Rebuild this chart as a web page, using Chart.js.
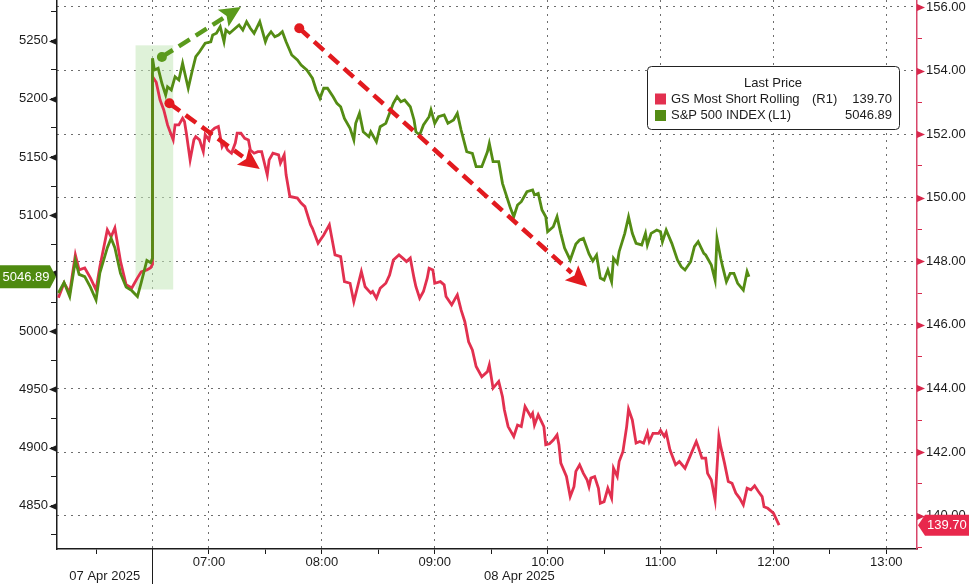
<!DOCTYPE html>
<html>
<head>
<meta charset="utf-8">
<script src="https://cdn.jsdelivr.net/npm/chart.js@4.4.1/dist/chart.umd.min.js"></script>
<style>
  html, body { margin: 0; padding: 0; background: #fff; }
  #wrap { position: relative; width: 969px; height: 584px; }
</style>
</head>
<body>
<div id="wrap"><canvas id="chart"></canvas></div>
<script>
const FONT = "'Liberation Sans', Arial, sans-serif";
const FS = 13;
const GREEN = "#548c14";
const RED = "#e2304f";
const ARROW_RED = "#e21a1f";
const ARROW_GREEN = "#5a9a1c";
const GRID = "#6e6e6e";
const INK = "#1c1c1c";

// x axis is minutes from the 08 Apr open (06:30); the 07 Apr close tail sits before zero
const toMin = t => { const [h, m] = t.split(":").map(Number); return h * 60 + m; };
const pos7 = t => toMin(t) - toMin("13:00");
const pos8 = t => toMin(t) - toMin("06:30");

// --- 07 Apr tail ---
const apr7Times = ["12:10","12:13","12:16","12:19","12:21","12:24","12:27","12:30","12:32","12:36",
  "12:38","12:40","12:43","12:46","12:49","12:52","12:54","12:57","12:59","13:00"];
const apr7Spx = [5033,5042,5030,5061,5049,5047,5038,5027,5050,5072,
  5080,5072,5050,5038,5035,5030,5042,5061,5059,5063];
const apr7Short = [146.85,147.32,147.01,148.20,147.73,147.79,147.48,147.10,147.82,148.99,
  148.77,149.05,148.00,147.26,147.16,147.48,147.67,147.73,147.80,147.90];

// --- 08 Apr: S&P 500 (left axis) ---
const spxTimes = ["06:30","06:31","06:33","06:35","06:37","06:38","06:40","06:42","06:44","06:46",
  "06:47","06:49","06:51","06:53","06:55","06:58","07:01","07:02","07:04","07:06",
  "07:08","07:09","07:11","07:14","07:16","07:18","07:20","07:22","07:24","07:27",
  "07:30","07:31","07:33","07:35","07:37","07:39","07:41","07:44","07:47","07:49",
  "07:52","07:55","07:57","07:59","08:01","08:03","08:06","08:08","08:10","08:12",
  "08:15","08:17","08:18","08:20","08:22","08:25","08:26","08:29","08:31","08:34",
  "08:36","08:38","08:40","08:42","08:44","08:47","08:49","08:50","08:52","08:54",
  "08:57","08:58","09:00","09:02","09:05","09:07","09:10","09:12","09:14","09:17",
  "09:20","09:22","09:25","09:28","09:29","09:31","09:34","09:36","09:40","09:42",
  "09:44","09:46","09:49","09:52","09:53","09:55","09:57","09:59","10:00","10:03",
  "10:05","10:07","10:09","10:12","10:15","10:17","10:19","10:22","10:24","10:26",
  "10:28","10:30","10:32","10:34","10:35","10:37","10:38","10:41","10:43","10:45",
  "10:47","10:50","10:52","10:53","10:55","10:58","11:00","11:01","11:03","11:06",
  "11:09","11:11","11:13","11:16","11:18","11:20","11:23","11:24","11:27","11:29",
  "11:30","11:32","11:33","11:35","11:37","11:39","11:41","11:44","11:46","11:47"];
const spxValues = [5234.9,5224.8,5226.3,5213.4,5203.3,5210.4,5207.6,5219.0,5216.2,5230.6,
  5223.3,5209.1,5223.3,5236.2,5240.5,5247.8,5249.1,5254.9,5256.4,5262.0,
  5249.1,5259.2,5256.4,5260.7,5263.5,5259.2,5266.3,5260.7,5256.4,5266.3,
  5249.1,5253.4,5257.7,5253.4,5254.9,5257.7,5249.1,5237.7,5233.4,5229.1,
  5224.8,5217.7,5207.6,5200.5,5209.1,5209.1,5201.8,5196.1,5193.2,5183.2,
  5174.6,5164.6,5178.9,5187.5,5171.7,5167.4,5171.7,5163.1,5176.0,5178.9,
  5187.5,5196.1,5201.8,5197.5,5199.0,5193.2,5181.8,5171.7,5168.9,5177.5,
  5184.6,5190.4,5178.9,5184.6,5186.1,5178.9,5181.8,5187.5,5173.2,5154.5,
  5153.1,5141.6,5141.6,5154.5,5161.7,5145.9,5145.9,5127.3,5107.2,5098.6,
  5108.7,5111.5,5120.1,5121.6,5117.3,5118.7,5104.4,5098.6,5085.7,5090.0,
  5098.6,5084.3,5071.7,5061.4,5075.1,5078.6,5080.0,5066.5,5060.5,5065.6,
  5045.9,5044.1,5052.8,5042.7,5062.8,5058.5,5068.5,5084.3,5098.6,5084.3,
  5075.7,5074.3,5084.3,5074.3,5084.3,5087.2,5085.7,5077.1,5087.2,5075.7,
  5061.4,5055.6,5052.8,5059.9,5072.8,5077.1,5067.1,5065.7,5057.0,5044.1,
  5080.0,5062.8,5055.6,5042.7,5049.9,5049.9,5041.3,5035.5,5051.3,5046.89];

// --- 08 Apr: GS Most Short Rolling (right axis) ---
const shortTimes = ["06:30","06:32","06:34","06:36","06:38","06:39","06:41","06:42","06:44","06:46",
  "06:47","06:48","06:50","06:52","06:53","06:55","06:57","06:58","07:00","07:01",
  "07:03","07:05","07:07","07:08","07:10","07:12","07:14","07:15","07:17","07:19",
  "07:21","07:22","07:24","07:26","07:28","07:31","07:32","07:34","07:37","07:38",
  "07:40","07:41","07:43","07:47","07:49","07:51","07:54","07:55","07:58","08:01",
  "08:04","08:07","08:10","08:12","08:15","08:17","08:19","08:21","08:23","08:26",
  "08:27","08:29","08:31","08:34","08:36","08:38","08:41","08:43","08:45","08:47",
  "08:49","08:50","08:52","08:54","08:56","08:57","08:59","09:00","09:03","09:05",
  "09:06","09:09","09:11","09:12","09:14","09:16","09:18","09:20","09:22","09:25",
  "09:28","09:29","09:31","09:34","09:36","09:37","09:39","09:42","09:44","09:46",
  "09:48","09:51","09:52","09:53","09:55","09:58","09:59","10:01","10:03","10:05",
  "10:06","10:07","10:10","10:12","10:14","10:15","10:17","10:19","10:21","10:22",
  "10:23","10:25","10:27","10:28","10:30","10:32","10:34","10:35","10:37","10:38",
  "10:40","10:42","10:43","10:45","10:47","10:49","10:51","10:53","10:54","10:56",
  "10:59","11:00","11:02","11:03","11:05","11:08","11:10","11:13","11:16","11:19",
  "11:20","11:22","11:24","11:25","11:27","11:29","11:31","11:32","11:34","11:36",
  "11:38","11:40","11:42","11:44","11:46","11:48","11:50","11:52","11:54","11:55",
  "11:57","12:00","12:03"];
const shortValues = [153.81,153.63,153.08,152.76,152.29,152.13,151.82,152.29,152.29,152.50,
  152.40,152.03,151.19,151.82,151.92,151.82,151.45,151.98,151.82,152.08,
  152.19,152.24,151.61,151.72,151.50,151.40,151.72,152.03,152.03,151.87,
  151.82,151.50,151.40,151.45,151.45,150.72,151.19,151.40,151.35,151.09,
  151.35,150.72,150.04,149.99,149.83,149.72,149.15,149.04,148.57,148.83,
  149.15,148.20,148.15,147.36,147.31,146.73,147.20,147.68,147.20,147.00,
  147.05,146.84,147.15,147.31,147.57,148.04,148.20,148.10,147.99,148.10,
  147.47,147.20,146.84,147.05,147.47,147.78,147.73,147.31,147.36,147.26,
  146.89,146.63,146.84,146.94,146.47,146.10,145.47,145.21,144.69,144.37,
  144.53,144.74,144.01,144.22,143.74,143.33,142.80,142.49,142.85,142.80,
  143.43,143.12,143.22,142.85,143.17,142.80,142.23,142.26,142.38,142.54,
  142.23,141.65,141.23,140.60,140.91,141.39,141.60,141.33,141.12,140.91,
  141.18,141.23,140.86,140.39,140.44,140.86,140.55,141.49,141.23,141.70,
  142.01,142.80,143.35,143.01,142.28,142.33,142.28,142.61,142.33,142.59,
  142.59,142.68,142.49,142.61,142.07,141.60,141.70,141.49,141.91,142.33,
  142.17,141.81,141.81,141.33,141.12,140.49,142.49,142.17,141.65,141.07,
  141.02,140.71,140.55,140.34,140.86,140.81,140.94,140.76,140.60,140.28,
  140.23,140.08,139.70];

// axes
const hourLabels = ["07:00","08:00","09:00","10:00","11:00","12:00","13:00"];
const leftLabels = [4850, 4900, 4950, 5000, 5050, 5100, 5150, 5200, 5250];
const rightLabels = [140, 142, 144, 146, 148, 150, 152, 154, 156];
const dayLabels = ["07 Apr 2025", "08 Apr 2025"];
const X_MIN = -50.75, X_MAX = 406.3;
const L_MIN = 4812.8, L_MAX = 5285;
const R_MIN = 138.95, R_MAX = 156.22;

// annotations: highlight box (left axis units) and hand-drawn arrows
const highlight = { from: pos7("12:51"), to: pos8("06:41"), low: 5036, high: 5246 };
const arrows = [
  { from: [pos8("06:35"), 5236], to: [pos8("07:17"), 5279], axis: "y", color: ARROW_GREEN },
  { from: [pos8("06:39"), 152.97], to: [pos8("07:27"), 150.9], axis: "y1", color: ARROW_RED },
  { from: [pos8("07:48"), 155.33], to: [pos8("10:21"), 147.2], axis: "y1", color: ARROW_RED },
];

const hourPos = hourLabels.map(pos8);
const xMarks = [pos7("12:30"), 0, ...hourPos.flatMap(p => [p, p + 30])].filter(v => v < X_MAX);
const leftMarks = [leftLabels[0] - 25, ...leftLabels.flatMap(v => [v, v + 25])];
const rightMarks = [rightLabels[0] - 1, ...rightLabels.flatMap(v => [v, v + 1])].filter(v => v <= R_MAX);

const spxData = [
  ...apr7Times.map((t, i) => ({ x: pos7(t), y: apr7Spx[i] })),
  ...spxTimes.map((t, i) => ({ x: pos8(t), y: spxValues[i] })),
];
const shortData = [
  ...apr7Times.map((t, i) => ({ x: pos7(t), y: apr7Short[i] })),
  ...shortTimes.map((t, i) => ({ x: pos8(t), y: shortValues[i] })),
];
const lastSpx = spxValues[spxValues.length - 1];
const lastShort = shortValues[shortValues.length - 1];
const legendRows = [
  { name: "GS Most Short Rolling", tag: "(R1)", last: lastShort.toFixed(2), color: RED },
  { name: "S&P 500 INDEX", tag: "(L1)", last: lastSpx.toFixed(2), color: GREEN },
];

function font(size) { return `${size}px ${FONT}`; }

function drawArrow(ctx, x1, y1, x2, y2, color) {
  const a = Math.atan2(y2 - y1, x2 - x1);
  const head = 21, half = 10;
  const bx = x2 - head * Math.cos(a), by = y2 - head * Math.sin(a);
  ctx.save();
  ctx.strokeStyle = color;
  ctx.fillStyle = color;
  ctx.lineWidth = 4.5;
  ctx.setLineDash([13, 7]);
  ctx.beginPath();
  ctx.moveTo(x1, y1);
  ctx.lineTo(bx, by);
  ctx.stroke();
  ctx.setLineDash([]);
  ctx.beginPath();
  ctx.arc(x1, y1, 5, 0, Math.PI * 2);
  ctx.fill();
  ctx.beginPath();
  ctx.moveTo(x2, y2);
  ctx.lineTo(bx + half * Math.sin(a), by - half * Math.cos(a));
  ctx.lineTo(bx + 4 * Math.cos(a), by + 4 * Math.sin(a));
  ctx.lineTo(bx - half * Math.sin(a), by + half * Math.cos(a));
  ctx.closePath();
  ctx.fill();
  ctx.restore();
}

const decorations = {
  id: "decorations",
  beforeDatasetsDraw(chart) {
    const { ctx, scales: { x, y } } = chart;
    const x1 = x.getPixelForValue(highlight.from), x2 = x.getPixelForValue(highlight.to);
    const y1 = y.getPixelForValue(highlight.high), y2 = y.getPixelForValue(highlight.low);
    ctx.save();
    ctx.fillStyle = "rgba(196, 232, 186, 0.55)";
    ctx.fillRect(x1, y1, x2 - x1, y2 - y1);
    ctx.restore();
  },
  afterDatasetsDraw(chart) {
    const { ctx, scales } = chart;
    arrows.forEach(a => {
      const ys = scales[a.axis];
      drawArrow(ctx,
        scales.x.getPixelForValue(a.from[0]), ys.getPixelForValue(a.from[1]),
        scales.x.getPixelForValue(a.to[0]), ys.getPixelForValue(a.to[1]), a.color);
    });
  },
  afterDraw(chart) {
    const { ctx, scales: { x, y, y1 } } = chart;
    ctx.save();
    // triangle markers on labelled ticks
    ctx.fillStyle = INK;
    leftLabels.forEach(v => {
      const py = Math.round(y.getPixelForValue(v)) + 0.5;
      ctx.beginPath();
      ctx.moveTo(y.right - 8, py);
      ctx.lineTo(y.right, py - 3.5);
      ctx.lineTo(y.right, py + 3.5);
      ctx.closePath();
      ctx.fill();
    });
    ctx.fillStyle = "#d8284c";
    rightLabels.forEach(v => {
      const py = Math.round(y1.getPixelForValue(v)) + 0.5;
      ctx.beginPath();
      ctx.moveTo(y1.left + 8, py);
      ctx.lineTo(y1.left, py - 3.5);
      ctx.lineTo(y1.left, py + 3.5);
      ctx.closePath();
      ctx.fill();
    });
    // day separator below the axis and date labels
    const sep = Math.round(x.getPixelForValue(0)) + 0.5;
    ctx.strokeStyle = INK;
    ctx.lineWidth = 1;
    ctx.beginPath();
    ctx.moveTo(sep, x.top);
    ctx.lineTo(sep, chart.height);
    ctx.stroke();
    ctx.fillStyle = INK;
    ctx.font = font(FS);
    ctx.textAlign = "center";
    ctx.textBaseline = "middle";
    ctx.fillText(dayLabels[0], (x.left + sep) / 2, 576);
    ctx.fillText(dayLabels[1], (sep + x.getPixelForValue(pos8("13:00"))) / 2, 576);

    // last value tags
    const gy = y.getPixelForValue(lastSpx);
    ctx.fillStyle = "#4e8a10";
    ctx.beginPath();
    ctx.moveTo(0, gy - 11.5);
    ctx.lineTo(50, gy - 11.5);
    ctx.lineTo(56, gy);
    ctx.lineTo(50, gy + 11.5);
    ctx.lineTo(0, gy + 11.5);
    ctx.closePath();
    ctx.fill();
    ctx.fillStyle = "#fff";
    ctx.textAlign = "center";
    ctx.fillText(lastSpx.toFixed(2), 26, gy + 0.5);

    const ry = y1.getPixelForValue(lastShort);
    const rx = y1.left + 1;
    ctx.fillStyle = "#e8284c";
    ctx.beginPath();
    ctx.moveTo(rx, ry);
    ctx.lineTo(rx + 7, ry - 10.5);
    ctx.lineTo(chart.width, ry - 10.5);
    ctx.lineTo(chart.width, ry + 10.5);
    ctx.lineTo(rx + 7, ry + 10.5);
    ctx.closePath();
    ctx.fill();
    ctx.fillStyle = "#fff";
    ctx.textAlign = "left";
    ctx.fillText(lastShort.toFixed(2), rx + 9, ry + 0.5);

    // legend box
    const bx = 647, by = 66, bw = 252, bh = 63;
    ctx.fillStyle = "#fff";
    ctx.strokeStyle = "#222";
    ctx.lineWidth = 1;
    ctx.beginPath();
    ctx.roundRect(bx + 0.5, by + 0.5, bw, bh, 4);
    ctx.fill();
    ctx.stroke();
    ctx.fillStyle = INK;
    ctx.font = font(FS);
    ctx.textAlign = "center";
    ctx.fillText("Last Price", bx + 126, by + 17);
    legendRows.forEach((r, i) => {
      const ly = by + 33 + i * 16.5;
      ctx.fillStyle = r.color;
      ctx.fillRect(bx + 8, ly - 5.5, 11, 11);
      ctx.fillStyle = INK;
      ctx.textAlign = "left";
      ctx.fillText(r.name, bx + 24, ly);
      ctx.fillText(r.tag, i === 0 ? bx + 165 : bx + 121, ly);
      ctx.textAlign = "right";
      ctx.fillText(r.last, bx + bw - 7, ly);
    });
    ctx.restore();
  },
};

new Chart(document.getElementById("chart"), {
  type: "line",
  data: {
    datasets: [
      { label: "S&P 500 INDEX", data: spxData, yAxisID: "y", borderColor: GREEN,
        borderWidth: 2.8, pointRadius: 0, tension: 0 },
      { label: "GS Most Short Rolling", data: shortData, yAxisID: "y1", borderColor: RED,
        borderWidth: 2.8, pointRadius: 0, tension: 0 },
    ],
  },
  options: {
    responsive: true,
    maintainAspectRatio: false,
    animation: false,
    layout: { padding: 0 },
    plugins: { legend: { display: false }, tooltip: { enabled: false } },
    scales: {
      x: {
        type: "linear",
        min: X_MIN,
        max: X_MAX,
        afterBuildTicks: s => { s.ticks = xMarks.map(v => ({ value: v })); },
        afterFit: s => { s.height = 35; s.paddingLeft = 0; s.paddingRight = 0; },
        grid: {
          color: c => (c.tick && (c.tick.value === 0 || hourPos.includes(c.tick.value))) ? GRID : "transparent",
          tickColor: INK,
          tickLength: 5,
        },
        border: { color: INK, width: 1.5, dash: [2, 5] },
        ticks: {
          autoSkip: false, maxRotation: 0, padding: 1, color: INK, font: { family: FONT, size: FS },
          callback: v => hourLabels.find(h => pos8(h) === v) || "",
        },
      },
      y: {
        position: "left",
        min: L_MIN,
        max: L_MAX,
        afterBuildTicks: s => { s.ticks = leftMarks.map(v => ({ value: v })); },
        afterFit: s => { s.width = 57; s.paddingTop = 0; s.paddingBottom = 0; },
        grid: { drawOnChartArea: false, tickColor: INK, tickLength: 6 },
        border: { color: INK, width: 1.5 },
        ticks: {
          autoSkip: false, padding: 3, color: INK, font: { family: FONT, size: FS },
          callback: v => leftLabels.includes(v) ? String(v) : "",
        },
      },
      y1: {
        position: "right",
        min: R_MIN,
        max: R_MAX,
        afterBuildTicks: s => { s.ticks = rightMarks.map(v => ({ value: v })); },
        afterFit: s => { s.width = 52; s.paddingTop = 0; s.paddingBottom = 0; },
        grid: {
          color: c => (c.tick && rightLabels.includes(c.tick.value)) ? GRID : "transparent",
          tickColor: "#d8284c",
          tickLength: 5,
        },
        border: { color: "#d8466a", width: 1.5, dash: [2, 5] },
        ticks: {
          autoSkip: false, padding: 4, color: INK, font: { family: FONT, size: FS },
          callback: v => rightLabels.includes(v) ? v.toFixed(2) : "",
        },
      },
    },
  },
  plugins: [decorations],
});
</script>
</body>
</html>
